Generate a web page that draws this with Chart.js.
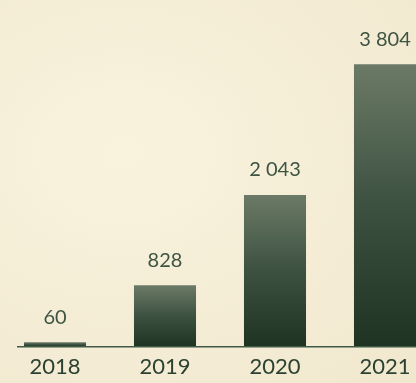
<!DOCTYPE html>
<html>
<head>
<meta charset="utf-8">
<script src="https://cdn.jsdelivr.net/npm/chart.js@4.4.1/dist/chart.umd.min.js"></script>
<style>
  html, body { margin: 0; padding: 0; overflow: hidden; }
  body { width: 416px; height: 383px; background: #f3ebd3;
    background-image: radial-gradient(ellipse at 30% 40%, rgba(255,250,232,0.5), rgba(236,226,198,0.4)); }
  #wrap { position: relative; width: 440px; height: 383px; }
</style>
</head>
<body>
<div id="wrap"><canvas id="c"></canvas></div>
<script>
const years = ['2018', '2019', '2020', '2021'];
const values = [60, 828, 2043, 3804];

function fmtSpace(v){ return String(v).replace(/\B(?=(\d{3})+(?!\d))/g, ' '); }

// per-bar vertical gradient, light top -> dark bottom
function barFill(ctx){
  const chart = ctx.chart;
  const { chartArea, scales } = chart;
  if (!chartArea || ctx.parsed == null) return '#3a4f3c';
  const top = scales.y.getPixelForValue(ctx.parsed.y);
  const bottom = scales.y.getPixelForValue(0);
  if (bottom - top < 1) return '#4d5f4c';
  const g = chart.ctx.createLinearGradient(0, top, 0, bottom);
  g.addColorStop(0, '#6b7a66');
  g.addColorStop(0.5, '#3d5141');
  g.addColorStop(1, '#1e3322');
  return g;
}

const valueLabels = {
  id: 'valueLabels',
  afterDatasetsDraw(chart){
    const c = chart.ctx;
    const meta = chart.getDatasetMeta(0);
    c.save();
    c.font = '400 20px Lato, sans-serif';
    c.fillStyle = '#3e5443';
    c.textAlign = 'center';
    c.textBaseline = 'middle';
    meta.data.forEach((bar, i) => {
      c.fillText(fmtSpace(values[i]), bar.x, bar.y - 25);
    });
    c.restore();
  }
};

const baseLine = {
  id: 'baseLine',
  afterDatasetsDraw(chart){
    const c = chart.ctx;
    const y = chart.scales.y.getPixelForValue(0);
    c.save();
    c.strokeStyle = '#3f5a46';
    c.lineWidth = 1.5;
    c.beginPath();
    c.moveTo(chart.chartArea.left + 17, y);
    c.lineTo(chart.width, y);
    c.stroke();
    c.restore();
  }
};

new Chart(document.getElementById('c'), {
  type: 'bar',
  data: { labels: years, datasets: [{ data: values, backgroundColor: barFill, borderWidth: 0,
    barPercentage: 0.564, categoryPercentage: 1 }] },
  options: {
    responsive: true, maintainAspectRatio: false, animation: false,
    layout: { padding: { top: 0, bottom: 4, left: 0, right: 0 } },
    plugins: { legend: { display: false }, tooltip: { enabled: false } },
    scales: {
      x: { grid: { display: false }, border: { display: false },
        ticks: { color: '#2b4131', font: { family: 'Lato, sans-serif', size: 22, lineHeight: 1.1 }, padding: 0 } },
      y: { display: false, min: 0, max: 4667 }
    }
  },
  plugins: [valueLabels, baseLine]
});
</script>
</body>
</html>
